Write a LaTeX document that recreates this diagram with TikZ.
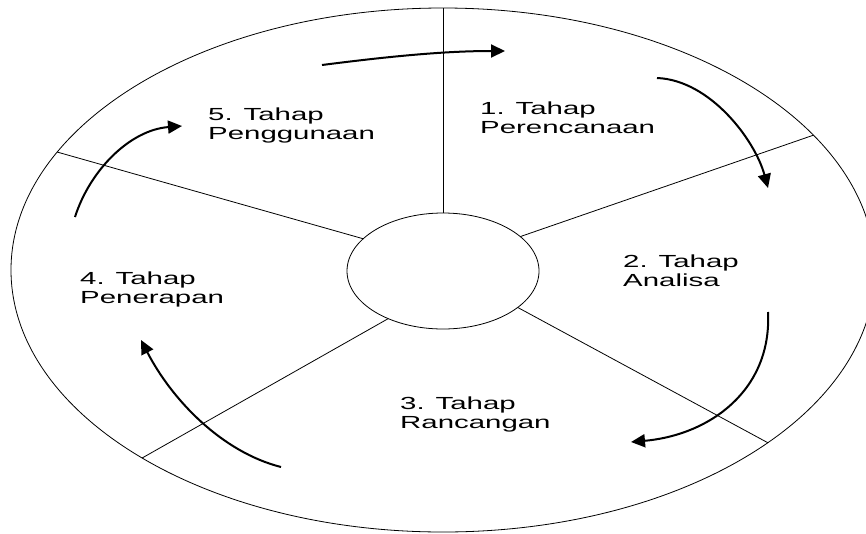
\documentclass[tikz,border=0pt]{standalone}
\usepackage{fontspec}
\setmainfont{Liberation Sans}
\newfontfamily\labelfont[FakeStretch=1.68]{Liberation Sans}
\usetikzlibrary{arrows.meta,shapes.geometric}
\begin{document}
\begin{tikzpicture}[x=1pt,y=-1pt,
  ring/.style={draw, ellipse, inner sep=0pt, outer sep=0pt, line width=0.8pt},
  spoke/.style={line width=0.8pt},
  flow/.style={line width=2pt, -{Triangle[length=14pt,width=13pt]}},
  stage/.style={font=\labelfont\fontsize{17.5}{19}\selectfont, align=left, anchor=base west, inner sep=0pt}]
\useasboundingbox (0,0) rectangle (866,533);
\fill[white] (0,0) rectangle (866,533);
\node[ring, minimum width=864pt, minimum height=524pt] (outer) at (443,270) {};
\node[ring, minimum width=192pt, minimum height=116pt] (hub) at (443,271) {};
\draw[spoke] (hub.90) -- (outer.90);
\draw[spoke] (hub.24) -- (outer.20.2);
\draw[spoke] (hub.334) -- (outer.332);
\draw[spoke] (hub.221) -- (outer.212.3);
\draw[spoke] (hub.158) -- (outer.163);
\node[stage] (s1) at (480,133) {1. Tahap\\Perencanaan};
\node[stage] (s2) at (623,286) {2. Tahap\\Analisa};
\node[stage] (s3) at (400,428) {3. Tahap\\Rancangan};
\node[stage] (s4) at (80,303) {4. Tahap\\Penerapan};
\node[stage] (s5) at (208,139) {5. Tahap\\Penggunaan};
\coordinate (a1s) at (322,65);  \coordinate (a1e) at (505,51);
\coordinate (a2s) at (657,78);  \coordinate (a2e) at (768,188);
\coordinate (a3s) at (768,312); \coordinate (a3e) at (631,442);
\coordinate (a4s) at (281,467); \coordinate (a4e) at (141,340);
\coordinate (a5s) at (75,217);  \coordinate (a5e) at (182,126);
\draw[flow] (a1s) .. controls (400,55) and (450,51) .. (a1e);
\draw[flow] (a2s) .. controls (710,80) and (755,140) .. (a2e);
\draw[flow] (a3s) .. controls (772,390) and (710,435) .. (a3e);
\draw[flow] (a4s) .. controls (222,452) and (172,400) .. (a4e);
\draw[flow] (a5s) .. controls (90,170) and (130,130) .. (a5e);
\end{tikzpicture}
\end{document}
